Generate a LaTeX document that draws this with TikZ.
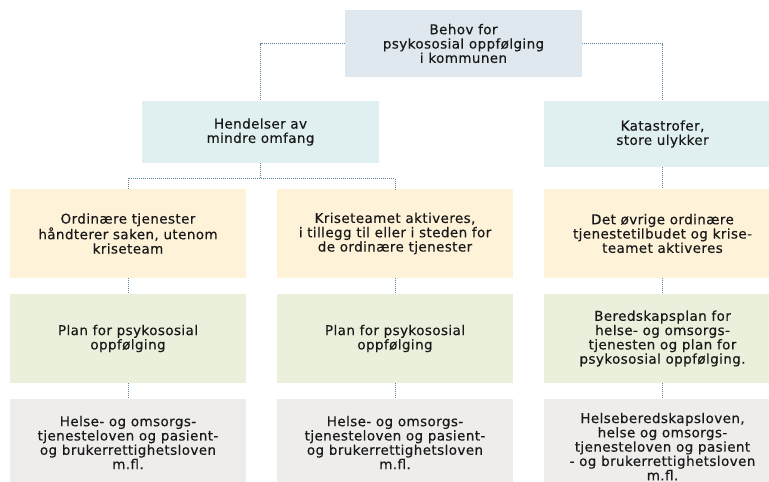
\documentclass[tikz,border=0pt]{standalone}
\usepackage{fontspec}
\setmainfont[LetterSpace=3,FakeBold=0.4]{DejaVu Sans}
\usetikzlibrary{calc}
\definecolor{topc}{RGB}{222,232,238}
\definecolor{cyanc}{RGB}{224,240,241}
\definecolor{yelc}{RGB}{254,243,216}
\definecolor{grnc}{RGB}{234,240,219}
\definecolor{gryc}{RGB}{238,237,235}
\definecolor{linec}{RGB}{90,130,158}
\definecolor{txtc}{RGB}{25,25,25}
\begin{document}
\begin{tikzpicture}[x=1pt,y=-1pt,
  box/.style={rectangle, inner sep=0pt, align=center, text=txtc,
    font=\fontsize{13.5}{14.3}\selectfont},
  conn/.style={draw=linec, line width=1pt, dash pattern=on 1pt off 1pt}]
\clip (0,0) rectangle (769,482);
\fill[white] (0,0) rectangle (769,482);
% boxes
\node[box, fill=topc, minimum width=237pt, minimum height=67pt] (top) at (463.5,43.5) {Behov for\\psykososial oppfølging\\i kommunen};
\node[box, fill=cyanc, minimum width=237pt, minimum height=62pt] (hend) at (260.5,132) {Hendelser av\\mindre omfang};
\node[box, fill=cyanc, minimum width=237pt, minimum height=66pt] (kat) at (662.5,134) {Katastrofer,\\store ulykker};
% yellow row
\node[box, fill=yelc, minimum width=236pt, minimum height=89pt] (y1) at (128,233.5) {Ordinære tjenester\\håndterer saken, utenom\\kriseteam};
\node[box, fill=yelc, minimum width=236pt, minimum height=89pt] (y2) at (395,233.5) {Kriseteamet aktiveres,\\i tillegg til eller i steden for\\de ordinære tjenester};
\node[box, fill=yelc, minimum width=237pt, minimum height=89pt] (y3) at (662.5,233.5) {Det øvrige ordinære\\tjenestetilbudet og krise-\\teamet aktiveres};
% green row
\node[box, fill=grnc, minimum width=236pt, minimum height=89pt] (g1) at (128,338.5) {Plan for psykososial\\oppfølging};
\node[box, fill=grnc, minimum width=236pt, minimum height=89pt] (g2) at (395,338.5) {Plan for psykososial\\oppfølging};
\node[box, fill=grnc, minimum width=237pt, minimum height=89pt] (g3) at (662.5,338.5) {Beredskapsplan for\\helse- og omsorgs-\\tjenesten og plan for\\psykososial oppfølging.};
% grey row
\node[box, fill=gryc, minimum width=236pt, minimum height=87pt] (r1) at (128,442.5) {Helse- og omsorgs-\\tjenesteloven og pasient-\\og brukerrettighetsloven\\m.fl.};
\node[box, fill=gryc, minimum width=236pt, minimum height=87pt] (r2) at (395,442.5) {Helse- og omsorgs-\\tjenesteloven og pasient-\\og brukerrettighetsloven\\m.fl.};
\node[box, fill=gryc, minimum width=237pt, minimum height=95pt] (r3) at (662.5,446.5) {Helseberedskapsloven,\\helse og omsorgs-\\tjenesteloven og pasient\\- og brukerrettighetsloven\\m.fl.};
% connectors
\coordinate (jl) at (hend.north |- top.west);
\coordinate (jr) at (kat.north |- top.east);
\draw[conn] (top.west) -- (jl) -- (hend.north);
\draw[conn] (top.east) -- (jr) -- (kat.north);
\coordinate (hjm) at ($(hend.south)+(0,15)$);
\draw[conn] (hend.south) -- (hjm);
\draw[conn] (y1.north) -- (y1.north |- hjm) -- (y2.north |- hjm) -- (y2.north);
\draw[conn] (kat.south) -- (y3.north);
\draw[conn] (y1.south) -- (g1.north);
\draw[conn] (y2.south) -- (g2.north);
\draw[conn] (y3.south) -- (g3.north);
\draw[conn] (g1.south) -- (r1.north);
\draw[conn] (g2.south) -- (r2.north);
\draw[conn] (g3.south) -- (r3.north);
\end{tikzpicture}
\end{document}
